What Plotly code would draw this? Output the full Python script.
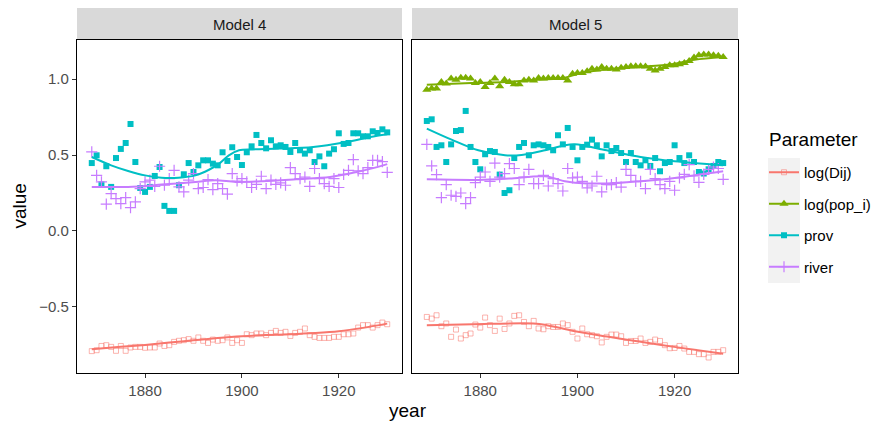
import plotly.graph_objects as go

# ---------------- data ----------------
years = list(range(1869, 1931))

m4_dij = [-0.791, -0.785, -0.757, -0.752, -0.763, -0.789, -0.757, -0.789, -0.767, -0.763,
          -0.763, -0.769, -0.767, -0.767, -0.741, -0.757, -0.752, -0.730, -0.723, -0.719,
          -0.712, -0.723, -0.701, -0.723, -0.737, -0.715, -0.723, -0.719, -0.701, -0.737,
          -0.719, -0.737,
          -0.680, -0.686, -0.675, -0.675, -0.686, -0.671, -0.658, -0.671, -0.664, -0.691,
          -0.671, -0.664, -0.642, -0.686, -0.697, -0.704, -0.704, -0.704, -0.697, -0.697,
          -0.680, -0.680, -0.675, -0.636, -0.620, -0.620, -0.636, -0.620, -0.603, -0.614]
m4_prov = [0.447, 0.498, 0.307, 0.426, 0.290, 0.480, 0.540, 0.579, 0.704, 0.454,
           0.283, 0.257, 0.290, 0.362, 0.421, 0.165, 0.132, 0.132, 0.301, 0.373,
           0.447, 0.388, 0.432, 0.465, 0.465, 0.443, 0.432, 0.518, 0.461, 0.551,
           0.487, 0.434, 0.518, 0.557, 0.632, 0.579, 0.544, 0.597, 0.557, 0.564,
           0.553, 0.520, 0.579, 0.531, 0.509, 0.531, 0.454, 0.491, 0.426, 0.509,
           0.538, 0.643, 0.573, 0.579, 0.643, 0.643, 0.623, 0.623, 0.656, 0.645,
           0.669, 0.649]
m4_river = [0.520, 0.366, 0.323, 0.176, 0.246, 0.213, 0.180, 0.220, 0.154, 0.191,
            0.279, 0.323, 0.334, 0.294, 0.426, 0.301, 0.345, 0.399, 0.290, 0.257,
            0.334, 0.377, 0.279, 0.286, 0.338, 0.272, 0.312, 0.279, 0.242, 0.377,
            0.329, 0.345, 0.323, 0.286, 0.307, 0.360, 0.279, 0.334, 0.307, 0.316,
            0.301, 0.417, 0.377, 0.345, 0.355, 0.294, 0.411, 0.345, 0.312, 0.294,
            0.345, 0.286, 0.373, 0.399, 0.470, 0.395, 0.377, 0.417, 0.465, 0.465,
            0.457, 0.386]

m5_dij = [-0.566, -0.577, -0.555, -0.627, -0.609, -0.697, -0.649, -0.708, -0.686, -0.675,
          -0.616, -0.636, -0.570, -0.620, -0.658, -0.577, -0.645, -0.609, -0.559, -0.555,
          -0.599, -0.627, -0.592, -0.642, -0.647, -0.627, -0.632, -0.632, -0.609, -0.620,
          -0.664, -0.708, -0.642, -0.680, -0.686, -0.693, -0.734, -0.697, -0.682, -0.682,
          -0.693, -0.737, -0.724, -0.724, -0.708, -0.737, -0.730, -0.715, -0.724, -0.752,
          -0.772, -0.770, -0.757, -0.774, -0.796, -0.796, -0.811, -0.811, -0.833, -0.796,
          -0.796, -0.785]
m5_pop = [0.930, 0.937, 0.937, 0.980, 0.970, 1.003, 0.996, 1.009, 1.009, 1.003,
          0.974, 0.980, 0.947, 0.974, 1.003, 0.952, 0.996, 0.980, 0.965, 0.965,
          0.991, 0.996, 0.991, 1.007, 1.003, 1.007, 1.007, 1.007, 1.007, 0.991,
          1.035, 1.040, 1.040, 1.051, 1.068, 1.062, 1.079, 1.068, 1.068, 1.062,
          1.075, 1.079, 1.085, 1.085, 1.085, 1.083, 1.068, 1.057, 1.068, 1.079,
          1.090, 1.090, 1.097, 1.105, 1.118, 1.141, 1.156, 1.162, 1.162, 1.156,
          1.154, 1.145]
m5_prov = [0.724, 0.735, 0.553, 0.564, 0.454, 0.570, 0.658, 0.664, 0.790, 0.553,
           0.454, 0.406, 0.505, 0.526, 0.520, 0.371, 0.250, 0.268, 0.480, 0.553,
           0.579, 0.498, 0.564, 0.570, 0.564, 0.553, 0.531, 0.630, 0.570, 0.678,
           0.553,
           0.465, 0.553, 0.568, 0.601, 0.564, 0.491, 0.564, 0.526, 0.546, 0.513,
           0.454, 0.513, 0.454, 0.432, 0.465, 0.428, 0.480, 0.393, 0.447, 0.454,
           0.564, 0.480, 0.447, 0.498, 0.454, 0.388, 0.378, 0.406, 0.428, 0.454,
           0.447]
m5_river = [0.570, 0.428, 0.371, 0.220, 0.305, 0.235, 0.228, 0.250, 0.180, 0.220,
            0.318, 0.355, 0.388, 0.327, 0.447, 0.355, 0.378, 0.443, 0.411, 0.305,
            0.355, 0.406, 0.312, 0.312, 0.366, 0.296, 0.345, 0.312, 0.263, 0.411,
            0.349,
            0.355, 0.327, 0.283, 0.296, 0.360, 0.257, 0.305, 0.305, 0.318, 0.289,
            0.406, 0.366, 0.327, 0.327, 0.279, 0.406, 0.345, 0.305, 0.279, 0.327,
            0.268, 0.349, 0.373, 0.437, 0.362, 0.320, 0.373, 0.406, 0.421, 0.411,
            0.340]

# smoothed (loess) curves
m4_dij_fit_x = [1869, 1875, 1880, 1885, 1890, 1895, 1900, 1905, 1910, 1915, 1920, 1925, 1930]
m4_dij_fit_y = [-0.779, -0.763, -0.750, -0.735, -0.720, -0.705, -0.693, -0.685, -0.680, -0.672, -0.660, -0.638, -0.610]
m4_prov_fit_x = [1869, 1873, 1876.5, 1880, 1883.4, 1886.9, 1890.4, 1893.2, 1895.3, 1897.3, 1899.4, 1902.2, 1907.8, 1914.7, 1921.6, 1926.5, 1930]
m4_prov_fit_y = [0.487, 0.432, 0.395, 0.366, 0.351, 0.351, 0.366, 0.403, 0.443, 0.498, 0.531, 0.537, 0.542, 0.553, 0.586, 0.618, 0.636]
m4_river_fit_x = [1869, 1876.5, 1883.4, 1890.4, 1894.6, 1898.7, 1904.3, 1911.2, 1918.2, 1923.7, 1927.9, 1930]
m4_river_fit_y = [0.290, 0.290, 0.305, 0.323, 0.334, 0.323, 0.327, 0.340, 0.355, 0.388, 0.420, 0.440]

m5_dij_fit_x = [1869, 1878.5, 1890.9, 1893.7, 1899.2, 1906.1, 1913, 1919.9, 1930]
m5_dij_fit_y = [-0.620, -0.614, -0.609, -0.620, -0.658, -0.695, -0.730, -0.763, -0.808]
m5_pop_fit_x = [1869, 1878.2, 1885.1, 1892, 1897.4, 1900.2, 1905.6, 1912.5, 1919.3, 1924.1, 1930]
m5_pop_fit_y = [0.963, 0.974, 0.980, 0.996, 1.009, 1.035, 1.062, 1.079, 1.097, 1.127, 1.145]
m5_prov_fit_x = [1869, 1874.1, 1879.6, 1885.1, 1888.5, 1893.3, 1897.4, 1899.5, 1906, 1913, 1920, 1930]
m5_prov_fit_y = [0.674, 0.601, 0.531, 0.498, 0.500, 0.531, 0.564, 0.570, 0.531, 0.487, 0.459, 0.432]
m5_river_fit_x = [1869, 1879.6, 1886, 1893.3, 1897.4, 1899.5, 1906, 1913, 1920, 1930]
m5_river_fit_y = [0.340, 0.336, 0.345, 0.360, 0.327, 0.318, 0.312, 0.327, 0.349, 0.393]

panel_labels = ["Model 4", "Model 5"]
param_names = ["log(Dij)", "log(pop_i)", "prov", "river"]
x_ticks = [1880, 1900, 1920]
y_ticks = [-0.5, 0.0, 0.5, 1.0]

# ---------------- styling ----------------
COL = {"log(Dij)": "#F8766D", "log(pop_i)": "#7CAE00", "prov": "#00BFC4", "river": "#C77CFF"}
FONT = "Liberation Sans, Arial, Helvetica, sans-serif"
W, H = 887, 422


def marker_for(name):
    c = COL[name]
    if name == "log(Dij)":
        return dict(symbol="square-open", size=5, color="rgba(248,118,109,0.55)",
                    line=dict(width=1, color="rgba(248,118,109,0.55)"))
    if name == "log(pop_i)":
        return dict(symbol="triangle-up", size=8, color=c, line=dict(width=0))
    if name == "prov":
        return dict(symbol="square", size=6, color=c, line=dict(width=0))
    return dict(symbol="cross-thin", size=8, color=c, line=dict(width=1.2, color=c))


fig = go.Figure()

panels = [
    ("x", "y", {"log(Dij)": m4_dij, "prov": m4_prov, "river": m4_river},
     {"log(Dij)": (m4_dij_fit_x, m4_dij_fit_y), "prov": (m4_prov_fit_x, m4_prov_fit_y),
      "river": (m4_river_fit_x, m4_river_fit_y)}),
    ("x2", "y2", {"log(Dij)": m5_dij, "log(pop_i)": m5_pop, "prov": m5_prov, "river": m5_river},
     {"log(Dij)": (m5_dij_fit_x, m5_dij_fit_y), "log(pop_i)": (m5_pop_fit_x, m5_pop_fit_y),
      "prov": (m5_prov_fit_x, m5_prov_fit_y), "river": (m5_river_fit_x, m5_river_fit_y)}),
]

for xa, ya, pts, fits in panels:
    for name in param_names:
        if name in pts:
            fig.add_trace(go.Scatter(x=years, y=pts[name], mode="markers", xaxis=xa, yaxis=ya,
                                     marker=marker_for(name), showlegend=False, hoverinfo="x+y",
                                     name=name))
    for name in param_names:
        if name in fits:
            fx, fy = fits[name]
            fig.add_trace(go.Scatter(x=fx, y=fy, mode="lines", xaxis=xa, yaxis=ya,
                                     line=dict(color=COL[name], width=2, shape="spline", smoothing=0.9),
                                     showlegend=False, hoverinfo="skip", name=name))

# legend-only entries
for i, name in enumerate(param_names):
    fig.add_trace(go.Scatter(x=[None], y=[None], mode="lines+markers", name=name,
                             legendgroup=name, marker=marker_for(name),
                             line=dict(color=COL[name], width=2), xaxis="x", yaxis="y"))

# geometry (pixels -> paper)
def px(v):
    return v / W


def py(v):
    return 1 - v / H


P_TOP, P_BOT = 40, 373
STRIP_TOP = 8
L1, R1, L2, R2 = 77, 402, 412, 738
xr = [1865.95, 1933.05]
yr = [-0.935, 1.257]

axis_common = dict(range=xr, tickvals=x_ticks, ticks="outside", ticklen=4, tickwidth=1,
                   tickcolor="#333333", showgrid=False, zeroline=False, showline=True,
                   linecolor="black", linewidth=1.3, mirror=True,
                   tickfont=dict(family=FONT, size=15, color="#4D4D4D"))
yaxis_common = dict(range=yr, tickvals=y_ticks, showgrid=False, zeroline=False, showline=True,
                    linecolor="black", linewidth=1.3, mirror=True)

fig.update_layout(
    width=W, height=H,
    margin=dict(l=0, r=0, t=0, b=0),
    paper_bgcolor="white", plot_bgcolor="white",
    xaxis=dict(domain=[px(L1), px(R1)], anchor="y", **axis_common),
    xaxis2=dict(domain=[px(L2), px(R2)], anchor="y2", **axis_common),
    yaxis=dict(domain=[py(P_BOT), py(P_TOP)], anchor="x", ticks="outside", ticklen=4,
               tickwidth=1, tickcolor="#333333", tickformat=".1f",
               tickfont=dict(family=FONT, size=15, color="#4D4D4D"), **yaxis_common),
    yaxis2=dict(domain=[py(P_BOT), py(P_TOP)], anchor="x2", matches="y", showticklabels=False,
                ticks="", **yaxis_common),
    showlegend=True,
    legend=dict(x=px(764), xanchor="left", y=py(156), yanchor="top",
                font=dict(family=FONT, size=15, color="black"),
                tracegroupgap=9, itemwidth=30, bgcolor="rgba(0,0,0,0)",
                traceorder="grouped"),
    font=dict(family=FONT),
)

shapes = []
for l, r in [(L1, R1), (L2, R2)]:
    shapes.append(dict(type="rect", xref="paper", yref="paper", x0=px(l), x1=px(r),
                       y0=py(P_TOP), y1=py(STRIP_TOP), fillcolor="#D9D9D9", line=dict(width=0),
                       layer="below"))
# legend key background
shapes.append(dict(type="rect", xref="paper", yref="paper", x0=px(768), x1=px(800),
                   y0=py(283), y1=py(158), fillcolor="#F2F2F2", line=dict(width=0), layer="below"))
fig.update_layout(shapes=shapes)

ann = []
for (l, r), lab in zip([(L1, R1), (L2, R2)], panel_labels):
    ann.append(dict(text=lab, xref="paper", yref="paper", x=px((l + r) / 2), y=py((STRIP_TOP + P_TOP) / 2),
                    xanchor="center", yanchor="middle", showarrow=False,
                    font=dict(family=FONT, size=15, color="#1A1A1A")))
ann.append(dict(text="year", xref="paper", yref="paper", x=px((L1 + R2) / 2), y=py(410),
                xanchor="center", yanchor="middle", showarrow=False,
                font=dict(family=FONT, size=19, color="black")))
ann.append(dict(text="value", xref="paper", yref="paper", x=px(19), y=py((P_TOP + P_BOT) / 2),
                xanchor="center", yanchor="middle", showarrow=False, textangle=-90,
                font=dict(family=FONT, size=19, color="black")))
ann.append(dict(text="Parameter", xref="paper", yref="paper", x=px(767), y=py(139),
                xanchor="left", yanchor="middle", showarrow=False,
                font=dict(family=FONT, size=19, color="black")))
fig.update_layout(annotations=ann)

fig.write_html("out.html", config={"displayModeBar": False},
               post_script="document.body.style.margin='0px';document.body.style.overflow='hidden';")
